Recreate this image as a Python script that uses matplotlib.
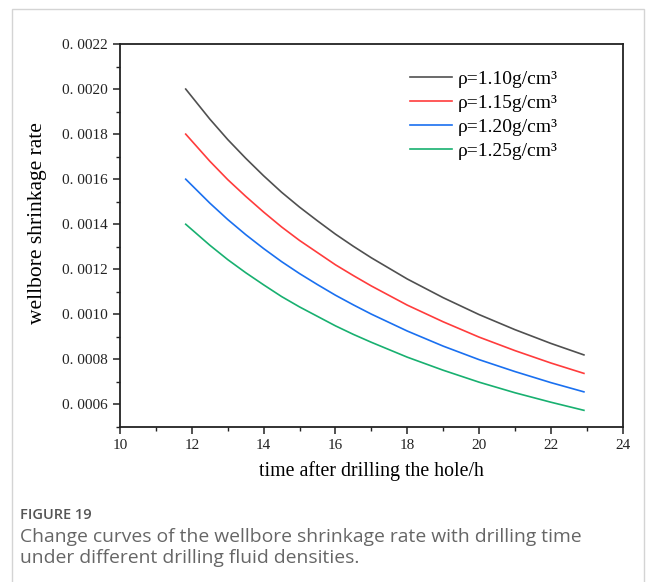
import matplotlib
matplotlib.use("Agg")
import matplotlib.pyplot as plt
from matplotlib.ticker import MultipleLocator, FixedLocator
from matplotlib.patches import Rectangle

# ---- data ----
hours = [11.83, 12.5, 13, 13.5, 14, 14.5, 15, 15.5, 16, 16.5, 17, 18, 19, 20, 21, 22, 22.92]
rho_110 = [0.002000, 0.001867, 0.001776, 0.001693, 0.001615, 0.001542, 0.001476, 0.001415,
           0.001356, 0.001302, 0.001251, 0.001157, 0.001074, 0.000999, 0.000932, 0.000871,
           0.000820]
rho_115 = [0.001800, 0.001680, 0.001598, 0.001524, 0.001454, 0.001388, 0.001328, 0.001274,
           0.001220, 0.001172, 0.001126, 0.001041, 0.000967, 0.000899, 0.000839, 0.000784,
           0.000738]
rho_120 = [0.001600, 0.001494, 0.001421, 0.001354, 0.001292, 0.001234, 0.001181, 0.001132,
           0.001085, 0.001042, 0.001001, 0.000926, 0.000859, 0.000799, 0.000746, 0.000697,
           0.000656]
rho_125 = [0.001400, 0.001307, 0.001243, 0.001185, 0.001131, 0.001079, 0.001033, 0.000991,
           0.000949, 0.000911, 0.000876, 0.000810, 0.000752, 0.000699, 0.000652, 0.000610,
           0.000574]
series = [rho_110, rho_115, rho_120, rho_125]
labels = ["ρ=1.10g/cm³", "ρ=1.15g/cm³", "ρ=1.20g/cm³", "ρ=1.25g/cm³"]
colors = ["#505050", "#ff3c3c", "#1a70f0", "#18b070"]

x_ticks = [10, 12, 14, 16, 18, 20, 22, 24]
y_ticks = [0.0006, 0.0008, 0.0010, 0.0012, 0.0014, 0.0016, 0.0018, 0.0020, 0.0022]
y_tick_labels = ["0. 0006", "0. 0008", "0. 0010", "0. 0012", "0. 0014",
                 "0. 0016", "0. 0018", "0. 0020", "0. 0022"]

serif = ["Liberation Serif", "DejaVu Serif"]
sans = ["Open Sans", "DejaVu Sans"]

fig = plt.figure(figsize=(6.56, 5.82), dpi=100)
fig.patches.append(Rectangle((12 / 656, -0.05), (644 - 12) / 656, 1 - 9 / 582 + 0.05,
                             transform=fig.transFigure, fill=False,
                             edgecolor="#d4d4d4", linewidth=1.0))

ax = fig.add_axes([120 / 656, 1 - 427 / 582, (622.7 - 120) / 656, (427 - 44) / 582])

for vals, lab, col in zip(series, labels, colors):
    ax.plot(hours, vals, color=col, linewidth=1.2, label=lab)

ax.set_xlim(10, 24)
ax.set_ylim(0.0005, 0.0022)
ax.xaxis.set_major_locator(FixedLocator(x_ticks))
ax.xaxis.set_minor_locator(MultipleLocator(1))
ax.yaxis.set_major_locator(FixedLocator(y_ticks))
ax.set_yticklabels(y_tick_labels)
ax.yaxis.set_minor_locator(MultipleLocator(0.0001))
ax.set_xticklabels([str(v) for v in x_ticks])

ax.tick_params(which="major", direction="out", length=5, width=1.1, labelsize=11,
               colors="#222222")
ax.tick_params(which="minor", direction="out", length=3, width=1.0, colors="#222222")
for lab in ax.get_xticklabels() + ax.get_yticklabels():
    lab.set_fontfamily(serif)
for sp in ax.spines.values():
    sp.set_linewidth(1.3)
    sp.set_color("#222222")

ax.set_xlabel("time after drilling the hole/h", fontsize=14.3, family=serif, labelpad=7)
ax.set_ylabel("wellbore shrinkage rate", fontsize=15.5, family=serif)
ax.yaxis.set_label_coords(-0.145, 0.533)

leg = ax.legend(loc="upper left", bbox_to_anchor=(0.561, 0.952), frameon=False,
                prop={"family": serif, "size": 14}, handlelength=2.15,
                handletextpad=0.3, labelspacing=0.33, borderaxespad=0)

fig.text(20 / 656, 1 - 515 / 582, "FIGURE 19", fontsize=10.5, color="#555555",
         family=sans, fontweight="semibold", va="center")
fig.text(20 / 656, 1 - 537 / 582,
         "Change curves of the wellbore shrinkage rate with drilling time",
         fontsize=13.9, color="#666666", family=sans, va="center")
fig.text(20 / 656, 1 - 558 / 582, "under different drilling fluid densities.",
         fontsize=13.9, color="#666666", family=sans, va="center")

fig.savefig("out.png", dpi=100)
